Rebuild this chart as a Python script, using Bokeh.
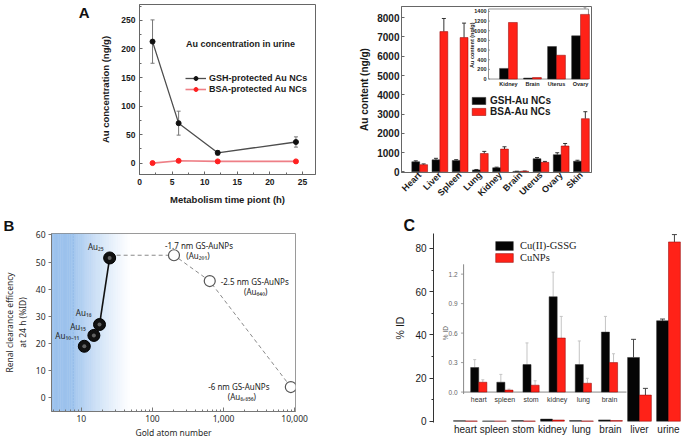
import numpy as np
from bokeh.plotting import figure
from bokeh.layouts import column, row
from bokeh.models import (Range1d, Label, ColumnDataSource, Whisker, TeeHead, Title,
                          FixedTicker, NumeralTickFormatter, LinearAxis)
from bokeh.core.properties import value
from bokeh.embed import file_html
from bokeh.resources import INLINE

# ---------------- Panel A (left): Au concentration in urine ----------------
a_time = [2, 6, 12, 24]
a_gsh = [213, 70, 18, 37]
a_gsh_err = [38, 21, 4, 9]
a_bsa = [0, 4, 3, 3]
a_bsa_err = [1, 1, 1, 1]
a_xticks = [0, 5, 10, 15, 20, 25]
a_yticks = [0, 50, 100, 150, 200, 250]

# ---------------- Panel A (right): organ distribution ----------------
organs = ["Heart", "Liver", "Spleen", "Lung", "Kidney", "Brain", "Uterus", "Ovary", "Skin"]
gsh_content = [520, 620, 590, 100, 210, 20, 680, 890, 550]
gsh_content_err = [50, 80, 40, 20, 30, 10, 60, 100, 50]
bsa_content = [370, 7280, 6970, 950, 1180, 30, 490, 1340, 2760]
bsa_content_err = [40, 680, 750, 110, 120, 10, 50, 130, 360]
content_ticks = [0, 1000, 2000, 3000, 4000, 5000, 6000, 7000, 8000]
inset_organs = ["Kidney", "Brain", "Uterus", "Ovary"]
inset_gsh = [220, 20, 672, 894]
inset_gsh_err = [15, 5, 83, 90]
inset_bsa = [1171, 30, 493, 1338]
inset_bsa_err = [125, 5, 54, 150]
inset_content_ticks = [0, 200, 400, 600, 800, 1000, 1200, 1400]

# ---------------- Panel B: renal clearance ----------------
b_cluster_atoms = [11, 15, 18, 25]
b_cluster_eff = [19, 23, 27, 51.5]
b_cluster_names = ["Au₁₀₋₁₁", "Au₁₅", "Au₁₈", "Au₂₅"]
b_np_atoms = [201, 640, 8856]
b_np_eff = [52.5, 43, 4]
b_np_names = ["-1.7 nm GS-AuNPs", "-2.5 nm GS-AuNPs", "-6 nm GS-AuNPs"]
b_np_formula = ["(Au₂₀₁)", "(Au₆₄₀)", "(Au₈,₈₅₆)"]
b_xticks = [10, 100, 1000, 10000]
b_yticks = [0, 10, 20, 30, 40, 50, 60]

# ---------------- Panel C: Cu biodistribution ----------------
c_organs = ["heart", "spleen", "stom", "kidney", "lung", "brain", "liver", "urine"]
c_gssg = [0.25, 0.10, 0.28, 0.97, 0.28, 0.61, 29.5, 46.5]
c_gssg_err = [0.08, 0.08, 0.22, 0.25, 0.24, 0.16, 8.4, 0.8]
c_cunp = [0.10, 0.02, 0.07, 0.55, 0.09, 0.30, 12.1, 83.0]
c_cunp_err = [0.025, 0.01, 0.045, 0.22, 0.05, 0.09, 3.1, 3.4]
c_yticks = [0, 20, 40, 60, 80]
c_inset_n = 6
c_inset_ticks = [0.0, 0.3, 0.6, 0.9, 1.2]
c_inset_tick_labels = ["0.0", "0.3", "0.6", "0.9", "1.2"]

SANS = "Liberation Sans"
SERIF = "Liberation Serif"
RED = "#ff2218"
BLACK = "#050505"


def inset_range(lo, hi, f0, f1):
    span = (hi - lo) / (f1 - f0)
    start = lo - span * f0
    return Range1d(start=start, end=start + span)


def whisker(p, base, lower, upper, color, size=4, both=False, width=1, **kw):
    src = ColumnDataSource(dict(base=list(base), lower=list(lower), upper=list(upper)))
    w = Whisker(source=src, base="base", lower="lower", upper="upper",
                line_color=color, line_width=width,
                upper_head=TeeHead(size=size, line_color=color, line_width=width),
                lower_head=TeeHead(size=size, line_color=color, line_width=width) if both else None,
                **kw)
    p.add_layout(w)


def style_axes(p, font, tick_size, label_size, bold, color="#1a1a1a"):
    for ax in p.axis:
        ax.major_label_text_font = font
        ax.major_label_text_font_size = tick_size
        ax.major_label_text_font_style = "bold" if bold else "normal"
        ax.major_label_text_color = color
        ax.axis_label_text_font = font
        ax.axis_label_text_font_size = label_size
        ax.axis_label_text_font_style = "bold" if bold else "normal"
        ax.axis_label_text_color = color


def style_legend(lg, x, y, gw, gh, spacing, font, size, bold):
    lg.location = (x, y)
    lg.padding = 0
    lg.margin = 0
    lg.spacing = spacing
    lg.glyph_width = gw
    lg.glyph_height = gh
    lg.label_height = gh
    lg.label_standoff = 4
    lg.label_text_font = font
    lg.label_text_font_size = size
    lg.label_text_font_style = "bold" if bold else "normal"
    lg.label_text_color = "#1a1a1a"
    lg.background_fill_alpha = 0
    lg.border_line_alpha = 0


def panel_title(p, text, offset, size):
    t = Title(text=text, align="left", offset=offset, standoff=0, text_font=SANS,
              text_font_style="bold", text_font_size=size, text_color="#111")
    p.add_layout(t, "above")


def make_fig(w, h, left, right, top, bottom, **kw):
    p = figure(width=w, height=h, output_backend="svg", toolbar_location=None,
               title=None, min_border_left=left, min_border_right=right,
               min_border_top=top, min_border_bottom=bottom, **kw)
    p.grid.visible = False
    return p


# =========================== Panel A left ===========================
pa1 = make_fig(350, 214, 139, 35, 4, 40, x_range=Range1d(0, 27), y_range=Range1d(-20, 278))
pa1.outline_line_color = "#666"
pa1.xaxis.ticker = FixedTicker(ticks=a_xticks, minor_ticks=[v + 2.5 for v in a_xticks])
pa1.yaxis.ticker = FixedTicker(ticks=a_yticks, minor_ticks=[v + 25 for v in [-50] + a_yticks])
pa1.xaxis.axis_label = "Metabolism time piont (h)"
pa1.yaxis.axis_label = "Au concentration (ng/g)"
style_axes(pa1, SANS, "8.5px", "9.5px", True)
for ax in pa1.axis:
    ax.axis_line_color = "#666"
    ax.major_tick_in = 3
    ax.major_tick_out = 0
    ax.minor_tick_in = 2
    ax.minor_tick_out = 0
    ax.major_tick_line_color = "#666"
    ax.minor_tick_line_color = "#666"
    ax.major_label_standoff = 4
pa1.yaxis.axis_label_standoff = 7
pa1.xaxis.axis_label_standoff = 6
# panel letter "A" drawn as the single tick label of an extra, invisible left axis
axA = LinearAxis(ticker=FixedTicker(ticks=[277]), major_label_overrides={277: "A"},
                 axis_line_color=None, major_tick_line_color=None, minor_tick_line_color=None,
                 major_tick_out=0, minor_tick_out=0,
                 major_label_text_font=SANS, major_label_text_font_size="15px",
                 major_label_text_font_style="bold", major_label_text_color="#111",
                 major_label_standoff=8)
pa1.add_layout(axA, "left")

whisker(pa1, a_time, [v - e for v, e in zip(a_gsh, a_gsh_err)],
        [v + e for v, e in zip(a_gsh, a_gsh_err)], "#777", size=4, both=True)
pa1.line(a_time, a_gsh, line_color="#4d4d4d", line_width=1.3, legend_label="GSH-protected Au NCs")
pa1.scatter(a_time, a_gsh, size=5, fill_color="#111", line_color="#111",
            legend_label="GSH-protected Au NCs")
pa1.line(a_time, a_bsa, line_color="#ee7f86", line_width=1.6, legend_label="BSA-protected Au NCs")
pa1.scatter(a_time, a_bsa, size=5, fill_color="#ff2020", line_color="#ff2020",
            legend_label="BSA-protected Au NCs")
style_legend(pa1.legend[0], 46, 80, 21, 10, 1, SANS, "9px", True)
pa1.legend[0].label_standoff = 3
pa1.add_layout(Label(x=15.5, y=209, text="Au concentration in urine", text_align="center",
                     text_baseline="middle", text_font=SANS, text_font_style="bold",
                     text_font_size="9px", text_color="#1a1a1a"))

# =========================== Panel A right ===========================
idx = np.arange(len(organs))
pa2 = make_fig(350, 214, 51, 109, 6, 42, x_range=Range1d(-0.9, 8.5), y_range=Range1d(-36, 8583))
pa2.outline_line_color = "#666"
pa2.xaxis.ticker = FixedTicker(ticks=list(idx))
pa2.xaxis.major_label_overrides = {int(i): n for i, n in zip(idx, organs)}
pa2.xaxis.major_label_orientation = np.pi / 4
pa2.yaxis.ticker = FixedTicker(ticks=content_ticks,
                               minor_ticks=[v + 500 for v in content_ticks])
pa2.yaxis.axis_label = "Au content (ng/g)"
style_axes(pa2, SANS, "10px", "10px", True)
pa2.xaxis.major_label_text_font_size = "9px"
for ax in pa2.axis:
    ax.axis_line_color = "#666"
    ax.major_tick_in = 3
    ax.major_tick_out = 0
    ax.minor_tick_in = 0
    ax.minor_tick_out = 0
    ax.major_tick_line_color = "#666"
    ax.major_label_standoff = 2
pa2.xaxis.major_tick_in = 0
pa2.xaxis.major_label_standoff = 1
pa2.yaxis.axis_label_standoff = 4

bw = 0.39
pa2.vbar(x=idx - bw / 2, top=gsh_content, width=bw, fill_color=BLACK, line_color="#333",
         line_width=0.5, legend_label="GSH-Au NCs")
pa2.vbar(x=idx + bw / 2, top=bsa_content, width=bw, fill_color=RED, line_color="#8a0000",
         line_width=0.5, legend_label="BSA-Au NCs")
whisker(pa2, idx - bw / 2, gsh_content, [v + e for v, e in zip(gsh_content, gsh_content_err)],
        "#333", size=4)
whisker(pa2, idx + bw / 2, bsa_content, [v + e for v, e in zip(bsa_content, bsa_content_err)],
        "#333", size=4)
style_legend(pa2.legend[0], 69, 55, 17, 9, 0, SANS, "10px", True)
pa2.legend[0].label_standoff = 3

# inset of panel A right
ia_lo, ia_hi = -0.83, 3.33
pa2.extra_x_ranges = {"ix": inset_range(ia_lo, ia_hi, 0.458, 0.984)}
pa2.extra_y_ranges = {"iy": inset_range(0, 1450, 0.563, 0.985)}
ikw = dict(x_range_name="ix", y_range_name="iy")
pa2.quad(left=[ia_lo], right=[ia_hi], bottom=[0], top=[1450], fill_color="white",
         line_color="#777", line_width=0.8, **ikw)
iidx = np.arange(len(inset_organs))
ibw = 0.37
pa2.vbar(x=iidx - ibw / 2, top=inset_gsh, width=ibw, fill_color=BLACK, line_color="#333",
         line_width=0.5, **ikw)
pa2.vbar(x=iidx + ibw / 2, top=inset_bsa, width=ibw, fill_color=RED, line_color="#8a0000",
         line_width=0.5, **ikw)
whisker(pa2, iidx - ibw / 2, inset_gsh, [v + e for v, e in zip(inset_gsh, inset_gsh_err)],
        "#999", size=3, **ikw)
whisker(pa2, iidx + ibw / 2, inset_bsa, [v + e for v, e in zip(inset_bsa, inset_bsa_err)],
        "#999", size=3, **ikw)
pa2.segment(x0=[ia_lo] * len(inset_content_ticks), y0=inset_content_ticks,
            x1=[ia_lo + 0.06] * len(inset_content_ticks), y1=inset_content_ticks,
            line_color="#777", line_width=0.8, **ikw)
pa2.text(x=[ia_lo] * len(inset_content_ticks), y=inset_content_ticks,
         text=[str(v) for v in inset_content_ticks], x_offset=-2,
         text_align="right", text_baseline="middle", text_font=value(SANS),
         text_font_size=value("5.5px"), text_font_style="bold", text_color="#222", **ikw)
pa2.text(x=[ia_lo], y=[700], text=["Au content (ng/g)"], angle=np.pi / 2, x_offset=-17,
         text_align="center", text_baseline="middle", text_font=value(SANS),
         text_font_size=value("5.5px"), text_font_style="bold", text_color="#222", **ikw)
pa2.text(x=iidx, y=[0] * len(iidx), text=inset_organs, y_offset=2,
         text_align="center", text_baseline="top", text_font=value(SANS),
         text_font_size=value("5.5px"), text_font_style="bold", text_color="#222", **ikw)

# =========================== Panel B ===========================
pb = make_fig(350, 226, 48, 55, 18, 29, x_axis_type="log", x_range=Range1d(3.8, 10300),
              y_range=Range1d(-5, 60.5))
pb.outline_line_color = "#9a9a9a"
# blue gradient background band
edges = 10 ** np.linspace(np.log10(3.8), np.log10(55), 47)
mids = np.sqrt(edges[:-1] * edges[1:])
tt = np.clip((np.log10(mids) - np.log10(7.0)) / (np.log10(52) - np.log10(7.0)), 0, 1)
alphas = 0.5 * (1 - tt) ** 1.3
pb.quad(left=edges[:-1], right=edges[1:] * 1.002, bottom=-5, top=60.5, fill_color="#3a86dc",
        fill_alpha=alphas, line_color=None)
pb.segment(x0=[7.7], y0=[-5], x1=[7.7], y1=[60.5], line_color="#8ab4e4", line_width=1,
           line_dash="1 2")
pb.xaxis.ticker = FixedTicker(ticks=b_xticks,
                              minor_ticks=[m * 10 ** e for e in range(0, 4) for m in range(2, 10)])
pb.xaxis.formatter = NumeralTickFormatter(format="0,0")
pb.yaxis.ticker = FixedTicker(ticks=b_yticks)
pb.xaxis.axis_label = "Gold atom number"
pb.yaxis.axis_label = "Renal clearance efficency\nat 24 h (%ID)"
style_axes(pb, "Noto Sans", "8.5px", "8.5px", False, color="#2a2a2a")
for ax in pb.axis:
    ax.axis_line_color = "#777"
    ax.major_tick_line_color = "#777"
    ax.minor_tick_line_color = "#777"
    ax.major_label_standoff = 3
pb.xaxis.major_tick_in = 4
pb.xaxis.major_tick_out = 0
pb.xaxis.minor_tick_in = 2
pb.xaxis.minor_tick_out = 0
pb.yaxis.major_tick_in = 0
pb.yaxis.major_tick_out = 3
pb.yaxis.minor_tick_out = 0
pb.xaxis.axis_label_standoff = 2
pb.yaxis.axis_label_standoff = 5
panel_title(pb, "B", -48, "15px")

pb.line([b_cluster_atoms[2], b_cluster_atoms[3]], [b_cluster_eff[2], b_cluster_eff[3]],
        line_color="#111", line_width=1.6)
pb.line([b_cluster_atoms[3]] + b_np_atoms, [b_cluster_eff[3] + 1] + b_np_eff,
        line_color="#8a8a8a", line_width=1, line_dash="4 3")
pb.scatter(b_cluster_atoms, b_cluster_eff, size=12, fill_color="#111", line_color="#000")
pb.scatter(b_cluster_atoms, b_cluster_eff, size=4, fill_color="#9a9a9a", line_color=None,
           fill_alpha=0.6)
pb.scatter(b_np_atoms, b_np_eff, size=11, fill_color="white", line_color="#555", line_width=1.2)
tkw = dict(text_font=value("Noto Sans"), text_font_size=value("8px"), text_color="#222")
pb.text(x=b_cluster_atoms, y=b_cluster_eff, text=b_cluster_names,
        x_offset=[-5, -8, -8, -6], y_offset=[-11, -9, -12, -11],
        text_align="right", text_baseline="middle", **tkw)
pb.text(x=b_np_atoms, y=b_np_eff, text=b_np_names, x_offset=[25, 45, -52], y_offset=[-10, 0, -1],
        text_align="center", text_baseline="middle", **tkw)
pb.text(x=b_np_atoms, y=b_np_eff, text=b_np_formula, x_offset=[24, 46, -49], y_offset=[0, 10, 9],
        text_align="center", text_baseline="middle", **tkw)

# =========================== Panel C ===========================
cidx = np.arange(len(c_organs))
pc = make_fig(350, 226, 83, 3, 14, 18, x_range=Range1d(-1.1, 8.0), y_range=Range1d(-0.6, 86.9))
pc.outline_line_color = None
pc.xaxis.ticker = FixedTicker(ticks=list(cidx))
pc.xaxis.major_label_overrides = {int(i): n for i, n in zip(cidx, c_organs)}
pc.yaxis.ticker = FixedTicker(ticks=c_yticks, minor_ticks=[10, 30, 50, 70])
pc.yaxis.axis_label = "% ID"
style_axes(pc, SANS, "10px", "10.5px", False, color="#1a1a1a")
pc.xaxis.axis_line_color = None
pc.xaxis.major_tick_line_color = None
pc.xaxis.minor_tick_line_color = None
pc.xaxis.major_tick_in = 0
pc.xaxis.major_tick_out = 0
pc.xaxis.minor_tick_in = 0
pc.xaxis.minor_tick_out = 0
pc.xaxis.major_label_standoff = 1
pc.yaxis.axis_line_color = "#333"
pc.yaxis.major_tick_line_color = "#333"
pc.yaxis.minor_tick_line_color = "#333"
pc.yaxis.major_tick_in = 0
pc.yaxis.major_tick_out = 4
pc.yaxis.minor_tick_in = 0
pc.yaxis.minor_tick_out = 2
pc.yaxis.major_label_standoff = 3
pc.yaxis.axis_label_standoff = 6
panel_title(pc, "C", -30, "16px")

cbw = 0.41
pc.vbar(x=cidx - cbw / 2, top=c_gssg, width=cbw, fill_color=BLACK, line_color="#333",
        line_width=0.5, legend_label="Cu(II)-GSSG")
pc.vbar(x=cidx + cbw / 2, top=c_cunp, width=cbw, fill_color=RED, line_color="#8a0000",
        line_width=0.5, legend_label="CuNPs")
whisker(pc, cidx[6:] - cbw / 2, c_gssg[6:], [v + e for v, e in zip(c_gssg[6:], c_gssg_err[6:])],
        "#444", size=5)
whisker(pc, cidx[6:] + cbw / 2, c_cunp[6:], [v + e for v, e in zip(c_cunp[6:], c_cunp_err[6:])],
        "#444", size=5)
style_legend(pc.legend[0], 60, 159, 22, 11, 1, SERIF, "10.5px", False)
pc.legend[0].label_standoff = 5

# inset of panel C
ic_lo, ic_hi = -0.58, 5.65
pc.extra_x_ranges = {"cx": inset_range(ic_lo, ic_hi, 0.114, 0.731)}
pc.extra_y_ranges = {"cy": inset_range(0, 1.2, 0.161, 0.785)}
ckw = dict(x_range_name="cx", y_range_name="cy")
ci = np.arange(c_inset_n)
ciw = 0.31
pc.segment(x0=[ic_lo], y0=[-0.02], x1=[ic_lo], y1=[1.3], line_color="#888", line_width=1, **ckw)
pc.segment(x0=[ic_lo], y0=[0], x1=[ic_hi], y1=[0], line_color="#888", line_width=1, **ckw)
pc.vbar(x=ci - ciw / 2, top=c_gssg[:c_inset_n], width=ciw, fill_color=BLACK, line_color="#333",
        line_width=0.5, **ckw)
pc.vbar(x=ci + ciw / 2, top=c_cunp[:c_inset_n], width=ciw, fill_color=RED, line_color="#8a0000",
        line_width=0.5, **ckw)
whisker(pc, ci - ciw / 2, c_gssg[:c_inset_n],
        [v + e for v, e in zip(c_gssg[:c_inset_n], c_gssg_err[:c_inset_n])], "#c4c4c4", size=3, **ckw)
whisker(pc, ci + ciw / 2, c_cunp[:c_inset_n],
        [v + e for v, e in zip(c_cunp[:c_inset_n], c_cunp_err[:c_inset_n])], "#c4c4c4", size=3, **ckw)
pc.segment(x0=[ic_lo - 0.1] * len(c_inset_ticks), y0=c_inset_ticks,
           x1=[ic_lo] * len(c_inset_ticks), y1=c_inset_ticks, line_color="#888", line_width=0.8, **ckw)
pc.text(x=[ic_lo] * len(c_inset_ticks), y=c_inset_ticks, text=c_inset_tick_labels, x_offset=-6,
        text_align="right", text_baseline="middle", text_font=value(SANS),
        text_font_size=value("6.5px"), text_color="#666", **ckw)
pc.text(x=[ic_lo], y=[0.6], text=["% ID"], angle=np.pi / 2, x_offset=-18,
        text_align="center", text_baseline="middle", text_font=value(SANS),
        text_font_size=value("6.5px"), text_color="#666", **ckw)
pc.text(x=ci, y=[0] * c_inset_n, text=c_organs[:c_inset_n], y_offset=4,
        text_align="center", text_baseline="top", text_font=value(SANS),
        text_font_size=value("7px"), text_color="#333", **ckw)

# each figure wrapped in its own column so that the frames are not aligned across the row
layout = column(row(column(pa1), column(pa2)), row(column(pb), column(pc)))
open("out.html", "w").write(file_html(layout, INLINE))
